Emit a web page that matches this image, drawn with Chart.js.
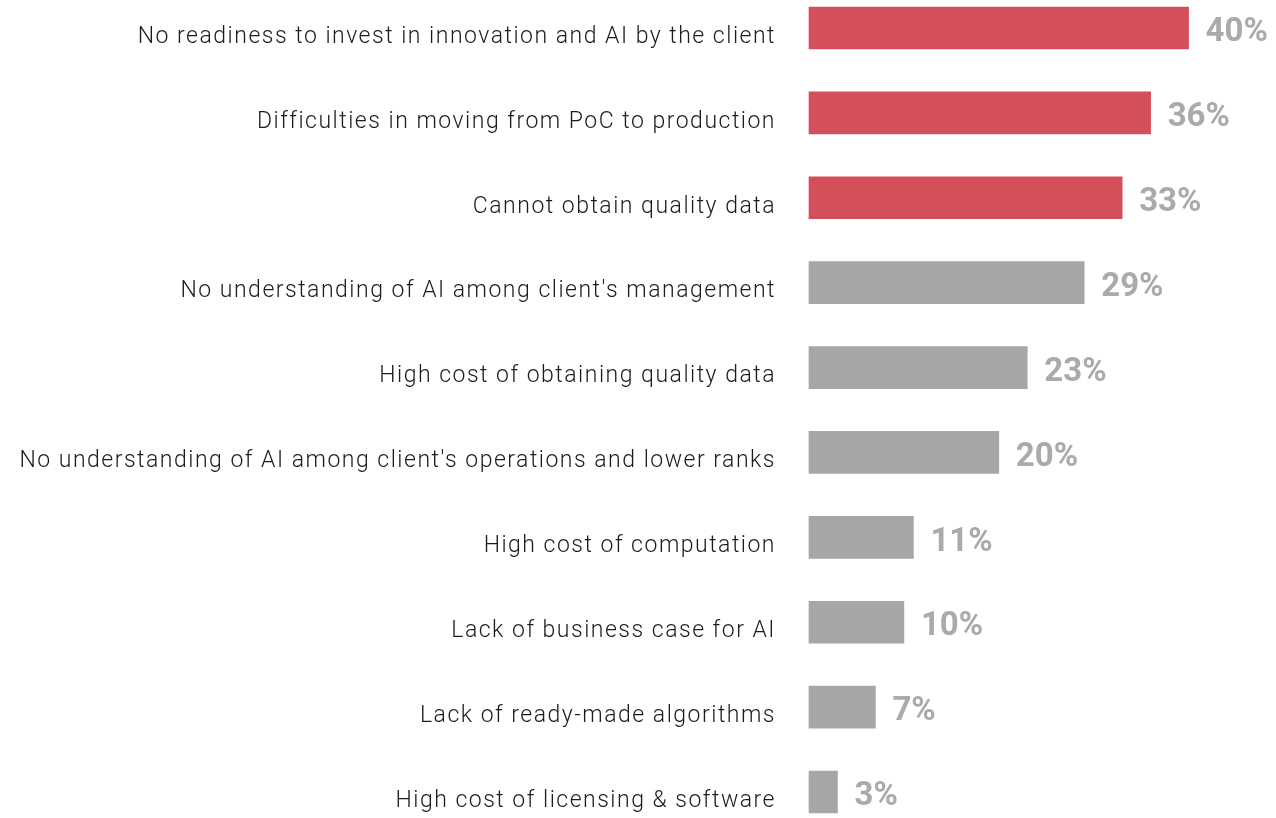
<!DOCTYPE html>
<html>
<head>
<meta charset="utf-8">
<script src="https://cdn.jsdelivr.net/npm/chart.js@4"></script>
<style>
  html, body { margin: 0; padding: 0; background: #fff; }
  #wrap { position: relative; width: 1276px; height: 818px; }
</style>
</head>
<body>
<div id="wrap"><canvas id="chart"></canvas></div>
<script>
// barriers to AI adoption, share of respondents
const categories = [
  "No readiness to invest in innovation and AI by the client",
  "Difficulties in moving from PoC to production",
  "Cannot obtain quality data",
  "No understanding of AI among client's management",
  "High cost of obtaining quality data",
  "No understanding of AI among client's operations and lower ranks",
  "High cost of computation",
  "Lack of business case for AI",
  "Lack of ready-made algorithms",
  "High cost of licensing & software",
];
const values = [40, 36, 33, 29, 23, 20, 11, 10, 7, 3];
const highlighted = [true, true, true, false, false, false, false, false, false, false];

const RED = "#d3505a";
const GREY = "#a6a6a6";
const labelFont = { family: "Roboto, 'DejaVu Sans', sans-serif", size: 23, weight: 300 };

// the original uses a wide DIN-like face, widen Roboto a bit
const spacing = {
  id: "spacing",
  beforeDraw(chart) {
    chart.ctx.letterSpacing = "1.5px";
  },
};

const valueLabels = {
  id: "valueLabels",
  afterDatasetsDraw(chart) {
    const { ctx } = chart;
    const meta = chart.getDatasetMeta(0);
    ctx.save();
    ctx.letterSpacing = "0px";
    ctx.font = "bold 33px Roboto, 'DejaVu Sans', sans-serif";
    ctx.fillStyle = "#aaaaaa";
    ctx.textAlign = "left";
    ctx.textBaseline = "middle";
    meta.data.forEach((bar, i) => {
      ctx.fillText(values[i] + "%", bar.x + 17, bar.y + 5);
    });
    ctx.restore();
  },
};

new Chart(document.getElementById("chart"), {
  type: "bar",
  data: {
    labels: categories,
    datasets: [
      {
        data: values,
        backgroundColor: highlighted.map((h) => (h ? RED : GREY)),
        barThickness: 42,
        clip: false,
      },
    ],
  },
  options: {
    indexAxis: "y",
    responsive: true,
    maintainAspectRatio: false,
    animation: false,
    layout: { padding: { top: 28, bottom: 26, left: 0, right: 2 } },
    plugins: { legend: { display: false }, tooltip: { enabled: false } },
    scales: {
      x: { display: false, min: 0, max: 49 },
      y: {
        offset: false,
        grid: { display: false, drawTicks: false },
        border: { display: false },
        ticks: { font: labelFont, color: "#1c1c1c", padding: 33, autoSkip: false, labelOffset: 9 },
        afterFit(scale) {
          scale.width = 809;
          scale.paddingTop = 0;
          scale.paddingBottom = 0;
        },
      },
    },
  },
  plugins: [spacing, valueLabels],
});
</script>
</body>
</html>
